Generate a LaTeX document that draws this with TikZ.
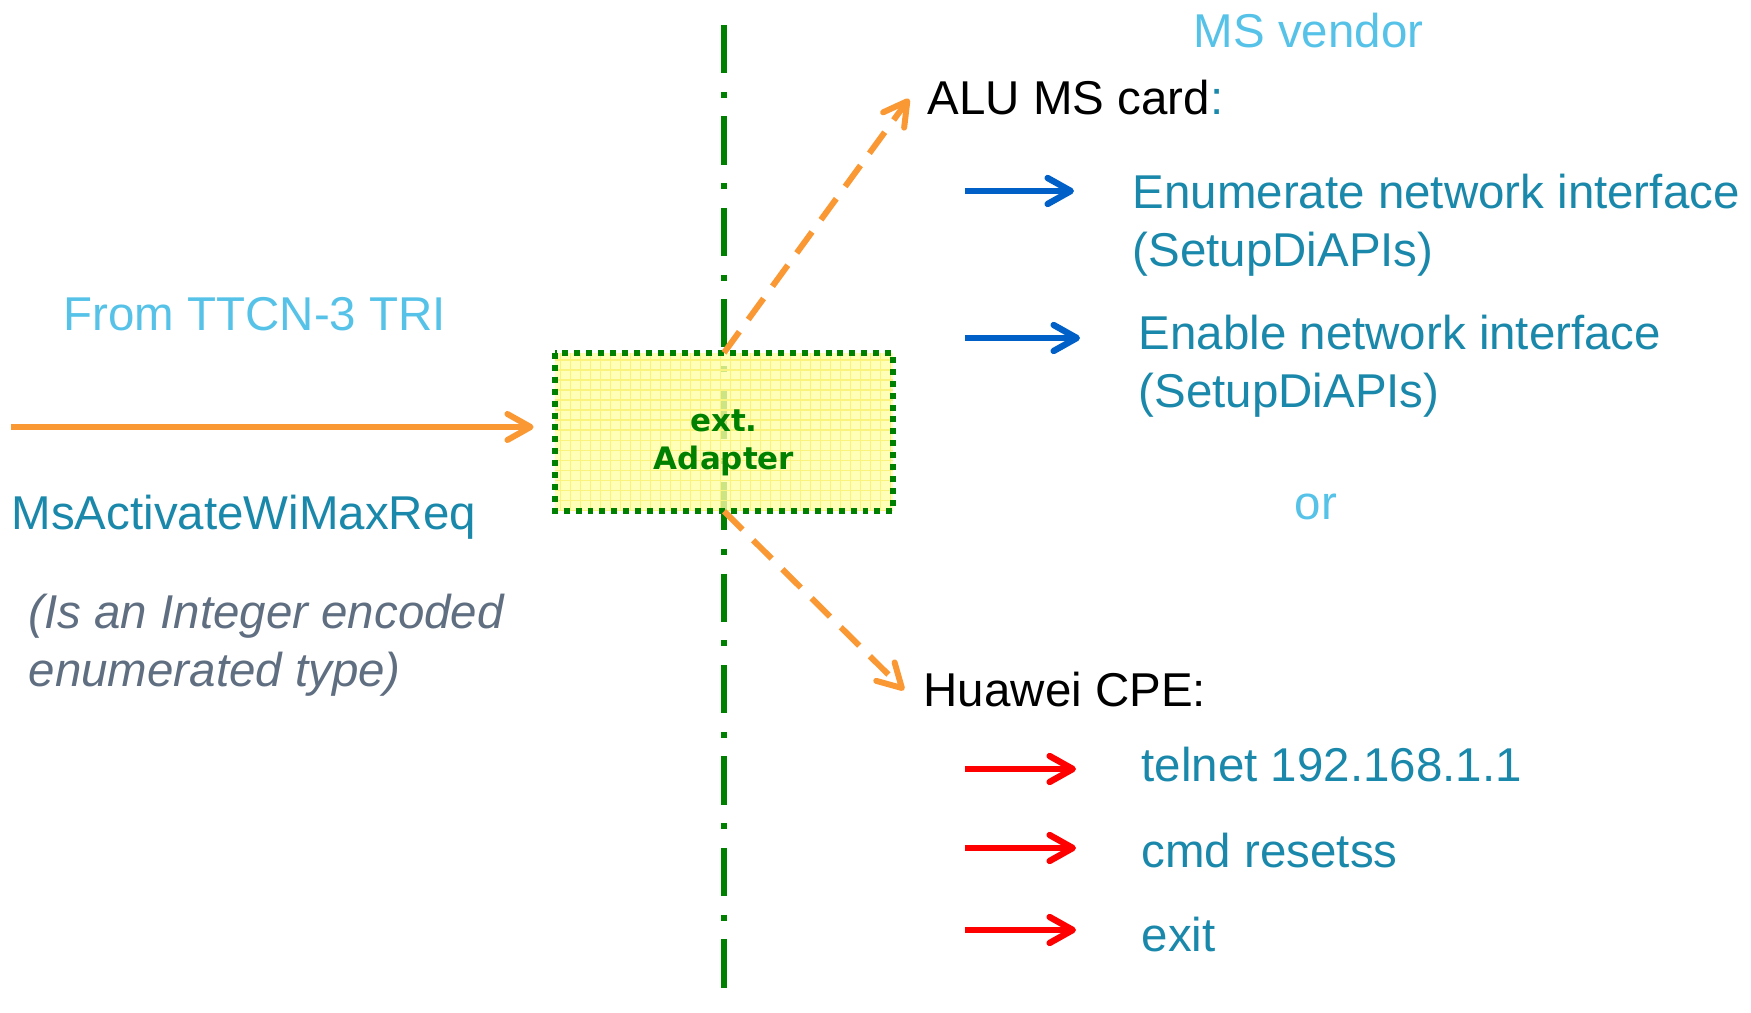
\documentclass[tikz,border=0pt]{standalone}
\usepackage{fontspec}
\setmainfont{Liberation Sans}
\newfontfamily\adapterfont{DejaVu Sans}
\usetikzlibrary{arrows.meta,positioning}

\definecolor{skyblue}{RGB}{86,194,232}
\definecolor{petrol}{RGB}{26,136,170}
\definecolor{slate}{RGB}{95,110,128}
\definecolor{tangerine}{RGB}{250,152,52}
\definecolor{leaf}{RGB}{0,128,0}
\definecolor{lemon}{RGB}{255,255,165}
\definecolor{lemongrid}{RGB}{249,242,125}
\definecolor{azure}{RGB}{0,96,200}
\definecolor{signalred}{RGB}{255,0,0}

\begin{document}
\begin{tikzpicture}[x=0.01cm,y=-0.01cm,->,>={Straight Barb[length=6.6pt,width=7.4pt,round]},
    every node/.style={inner sep=0pt,font=\fontsize{13.5}{16.6}\selectfont},
    txt/.style={anchor=base west,align=left},
    adapter/.style={minimum width=3.37cm,minimum height=1.57cm,fill=lemon,fill opacity=0.8},
    adapter border/.style={-,leaf,line width=1.7pt,dash pattern=on 1.7pt off 1.7pt},
    adapter text/.style={align=center,text=leaf,font=\adapterfont\bfseries\fontsize{8.8}{10.8}\selectfont},
    divider/.style={-,leaf,line width=1.7pt,dash pattern=on 13.7pt off 5.3pt on 1.7pt off 5.3pt},
    feed/.style={tangerine,line width=1.7pt,shorten >=6pt},
    branch/.style={tangerine,line width=1.7pt,dash pattern=on 7.4pt off 4.3pt},
    call/.style={line width=1.8pt,shorten >=#1}]

    \useasboundingbox (0,0) rectangle (1751,1013);

    \coordinate (divtop) at (724,25);
    \coordinate (divbot) at (724,998);
    \draw[divider] (divtop) -- (divbot);

    \node[adapter] (adp) at (724,432) {};
    \begin{scope}
        \clip (adp.south west) rectangle (adp.north east);
        \draw[-,lemongrid,line width=0.4pt,step=2.845pt] (adp.south west) grid (adp.north east);
    \end{scope}
    \draw[adapter border] (adp.north west) rectangle (adp.south east);
    \node[adapter text] (adptxt) at (724,443) {ext.\\Adapter};

    \node[txt,text=skyblue] (from) at (63,331) {From TTCN-3 TRI};
    \node[txt,text=petrol] (msg) at (11,530) {MsActivateWiMaxReq};
    \node[txt,text=slate,font=\fontsize{13.5}{16.5}\selectfont\itshape] (note) at (28,687) {(Is an Integer encoded\\enumerated type)};

    \coordinate (src) at (11,427);
    \draw[feed] (src) -- (src -| adp.west);

    \node[txt,text=skyblue] (vendor) at (1193,48) {MS vendor};
    \node[txt] (alu) at (927,115) {ALU MS card\textcolor{petrol}{:}};
    \node[txt] (huawei) at (923,707) {Huawei CPE:};
    \node[txt,text=skyblue] (orword) at (1294,520) {or};

    \draw[branch] (adp.north) -- ([xshift=-5.1pt,yshift=4.6pt]alu.base west);
    \draw[branch] (adp.south) -- ([xshift=-5.4pt,yshift=4.8pt]huawei.base west);

    \node[txt,text=petrol] (enum) at (1132,267) {Enumerate network interface\\(SetupDiAPIs)};
    \node[txt,text=petrol] (enable) at (1138,408) {Enable network interface\\(SetupDiAPIs)};

    \foreach \n/\yy in {enum/191,enable/338}{
        \coordinate (\n-from) at (965,\yy);
        \draw[call=16.5pt,azure] (\n-from) -- (\n-from -| \n.west);
    }

    \foreach \n/\t/\yy in {telnet/telnet 192.168.1.1/782,resetss/cmd resetss/867,quit/exit/952}{
        \node[txt,text=petrol] (\n) at (1141,\yy) {\t};
    }

    \foreach \n/\yy in {telnet/769,resetss/848,quit/930}{
        \coordinate (\n-from) at (965,\yy);
        \draw[call=18.5pt,signalred] (\n-from) -- (\n-from -| \n.west);
    }

\end{tikzpicture}
\end{document}
